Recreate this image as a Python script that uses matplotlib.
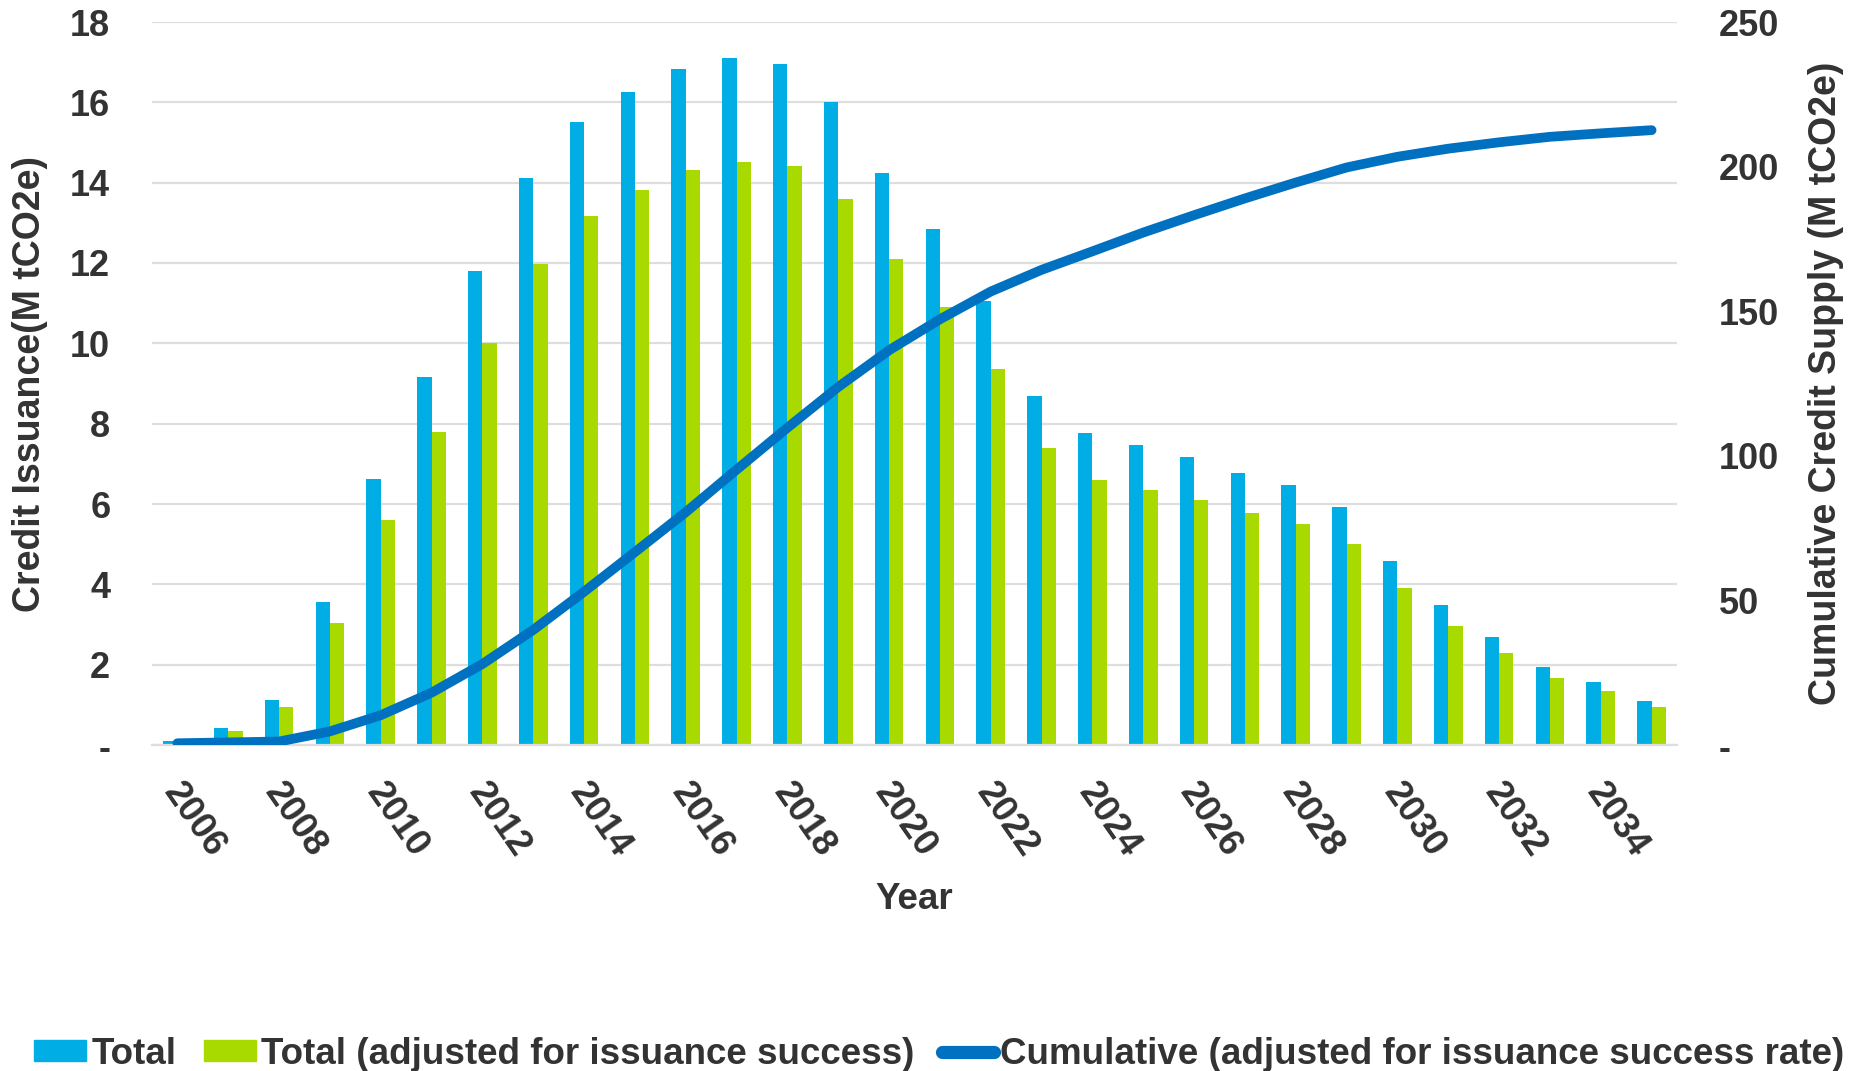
import matplotlib
matplotlib.use('Agg')
import matplotlib.pyplot as plt
import matplotlib.transforms as mtransforms
import numpy as np
from matplotlib.lines import Line2D
from matplotlib.patches import Patch
from matplotlib.ticker import FuncFormatter, MultipleLocator

plt.rcParams['font.family'] = ['Liberation Sans', 'DejaVu Sans']
plt.rcParams['font.weight'] = 'bold'

# Data
years = list(range(2006, 2036))
total = [0.1, 0.43, 1.13, 3.55, 6.61, 9.16, 11.8, 14.11, 15.5, 16.25,
         16.84, 17.1, 16.95, 16.02, 14.25, 12.85, 11.05, 8.69, 7.76, 7.46,
         7.16, 6.78, 6.47, 5.92, 4.57, 3.49, 2.7, 1.94, 1.57, 1.1]
total_adjusted = [0.08, 0.36, 0.95, 3.03, 5.61, 7.79, 10.01, 11.97, 13.17, 13.82,
                  14.31, 14.51, 14.41, 13.6, 12.11, 10.91, 9.37, 7.39, 6.59, 6.35,
                  6.09, 5.77, 5.51, 5.01, 3.9, 2.97, 2.29, 1.67, 1.34, 0.95]
cumulative = [0.6, 0.9, 1.2, 4.7, 10.3, 18.1, 28.0, 39.8, 53.0, 66.7,
              80.5, 95.2, 109.7, 123.8, 136.5, 147.2, 156.8, 164.3, 170.7, 177.2,
              183.2, 189.0, 194.5, 199.7, 203.4, 206.2, 208.4, 210.3, 211.5, 212.6]
tick_labels = [str(y) for y in years[::2]]

text_color = '#333333'
blue = '#00ADE4'
green = '#A8DA00'
line_blue = '#0070C0'
grid_color = '#DEDEDE'

W, H = 1860, 1071
fig = plt.figure(figsize=(W / 100, H / 100), dpi=100)
ax = fig.add_axes([152 / W, (H - 745) / H, 1525 / W, (745 - 22) / H])

x = np.arange(len(years))
bw = 0.283
ax.bar(x - bw / 2, total, width=bw, color=blue, zorder=2)
ax.bar(x + bw / 2, total_adjusted, width=bw, color=green, zorder=2)

ax.set_xlim(-0.5, len(years) - 0.5)
ax.set_ylim(0, 18)
ax.yaxis.set_major_locator(MultipleLocator(2))
dash_fmt = FuncFormatter(lambda v, p: '-' if abs(v) < 1e-9 else f'{v:.0f}')
ax.yaxis.set_major_formatter(dash_fmt)
ax.grid(True, axis='y', color=grid_color, linewidth=1.6)
ax.set_axisbelow(True)

for s in ['top', 'right', 'left']:
    ax.spines[s].set_visible(False)
ax.spines['bottom'].set_color(grid_color)
ax.spines['bottom'].set_linewidth(1.6)

ax.set_xticks(x[::2])
ax.set_xticklabels(tick_labels, rotation=-55, ha='left', va='top',
                   rotation_mode='anchor')
ax.tick_params(axis='x', length=0, pad=23, labelsize=26.5, labelcolor=text_color)
ax.tick_params(axis='y', length=0, pad=30, labelsize=26, labelcolor=text_color)
shift = mtransforms.ScaledTranslation(7 / 100, 0, fig.dpi_scale_trans)
for lbl in ax.get_xticklabels():
    lbl.set_transform(lbl.get_transform() + shift)

ax.set_xlabel('Year', fontsize=26.5, color=text_color, fontweight='bold')
ax.xaxis.set_label_coords(0.5, -0.214)
ax.xaxis.label.set_va('center')

ax.set_ylabel('Credit Issuance(M tCO2e)', fontsize=27, color=text_color,
              fontweight='bold')
ax.yaxis.set_label_coords(-0.080, 0.5)
ax.yaxis.label.set_va('center')

ax2 = ax.twinx()
ax2.plot(x, cumulative, color=line_blue, linewidth=7, solid_capstyle='round',
         solid_joinstyle='round', zorder=3)
ax2.set_ylim(0, 250)
ax2.yaxis.set_major_locator(MultipleLocator(50))
ax2.yaxis.set_major_formatter(dash_fmt)
ax2.tick_params(axis='y', length=0, pad=30, labelsize=26, labelcolor=text_color)
for s in ax2.spines.values():
    s.set_visible(False)
ax2.set_ylabel('Cumulative Credit Supply (M tCO2e)', fontsize=27,
               color=text_color, fontweight='bold', rotation=90)
ax2.yaxis.set_label_coords(1.0977, 0.5)
ax2.yaxis.label.set_va('center')

handles = [Patch(color=blue), Patch(color=green),
           Line2D([0], [0], color=line_blue, linewidth=9.5, solid_capstyle='round')]
labels = ['Total', 'Total (adjusted for issuance success)',
          'Cumulative (adjusted for issuance success rate)']
fig.legend(handles, labels, loc='center left',
           bbox_to_anchor=(34 / W, 1 - 1054 / H), ncol=3, frameon=False,
           fontsize=26.5, labelcolor=text_color, handlelength=1.4,
           handleheight=0.52, handletextpad=0.16, columnspacing=0.75,
           borderpad=0, borderaxespad=0)

fig.savefig('out.png', dpi=100)
